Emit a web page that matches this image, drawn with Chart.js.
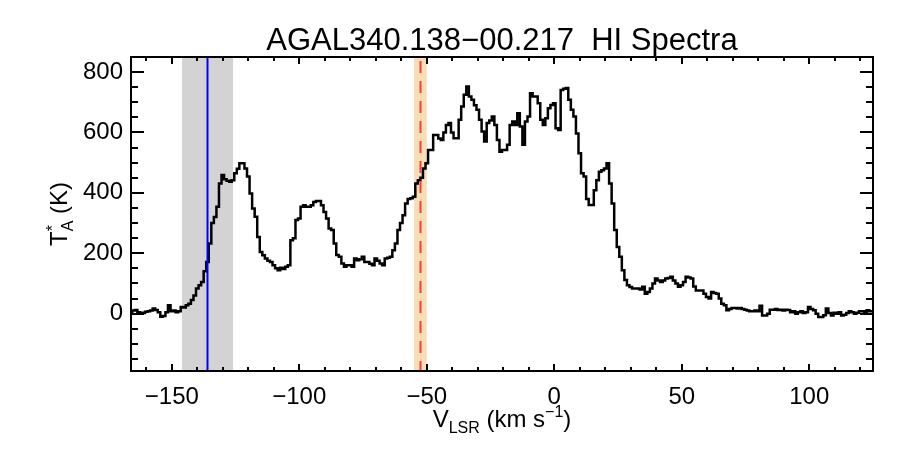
<!DOCTYPE html>
<html>
<head>
<meta charset="utf-8">
<script src="https://cdn.jsdelivr.net/npm/chart.js@4.4.1/dist/chart.umd.min.js"></script>
<style>
  html, body { margin: 0; padding: 0; background: #fff; }
</style>
</head>
<body>
<canvas id="spec" width="900" height="450"></canvas>
<script>
// HI spectrum, one channel per km/s starting at velStart
const velStart = -166;
const velStep = 1;
const tempK = [
    5, 10, 12, 5, 3, 2, 6, 8, 10, 17,
    12, 5, -10, -8, 5, 28, 8, 10, 5, 8,
    22, 20, 28, 33, 45, 60, 83, 94, 105, 140,
    171, 232, 300, 320, 354, 431, 459, 445, 440, 437,
    442, 465, 480, 498, 498, 481, 454, 398, 348, 321,
    254, 204, 193, 183, 175, 171, 160, 150, 144, 152,
    148, 155, 160, 243, 250, 310, 315, 354, 359, 354,
    354, 359, 370, 373, 373, 359, 337, 315, 282, 277,
    232, 194, 188, 166, 155, 160, 160, 155, 183, 177,
    180, 188, 171, 171, 165, 160, 183, 175, 166, 160,
    183, 185, 188, 210, 232, 277, 300, 326, 365, 380,
    382, 387, 431, 442, 450, 481, 498, 542, 542, 592,
    592, 580, 575, 600, 625, 631, 600, 581, 581, 642,
    686, 725, 752, 719, 708, 690, 675, 642, 603, 570,
    631, 640, 653, 625, 575, 536, 542, 542, 559, 625,
    636, 625, 664, 620, 559, 636, 653, 730, 719, 719,
    697, 642, 625, 647, 680, 691, 697, 614, 608, 741,
    745, 747, 708, 675, 653, 597, 531, 465, 454, 380,
    360, 360, 409, 442, 470, 475, 481, 498, 431, 365,
    277, 221, 188, 144, 111, 94, 88, 83, 83, 83,
    80, 89, 66, 72, 83, 100, 116, 110, 105, 110,
    116, 118, 122, 110, 100, 89, 94, 105, 122, 120,
    116, 90, 77, 77, 77, 66, 55, 50, 72, 68,
    66, 50, 33, 28, 11, 15, 19, 19, 17, 19,
    15, 13, 10, 8, 8, 10, 8, 26, -6, -6,
    0, 13, 13, 15, 12, 13, 10, 13, 12, 5,
    8, 0, 5, 8, 2, 5, 22, 15, 11, 0,
    -11, -11, -5, 17, 2, -6, 3, 0, 5, -6,
    -4, 2, 8, 5, 0, 3, 8, 8, 5, 11,
    8, 8
];
const velocities = tempK.map((t, i) => velStart + i * velStep);

const xRange = [-166, 125];
const yRange = [-190, 850];
const xTickVals = [-150, -100, -50, 0, 50, 100];
const yTickVals = [0, 200, 400, 600, 800];
const xMinor = 10;
const yMinor = 50;

// marked velocity ranges
const grayBand = [-146, -126];
const blueLineVel = -136;
const orangeBand = [-55, -50];
const redLineVel = -52.5;

const titleText = 'AGAL340.138\u221200.217  HI Spectra';
const FONT = '"Liberation Sans", Arial, Helvetica, sans-serif';

function setFont(ctx, size) {
    ctx.font = size + 'px ' + FONT;
}

// draw pieces [text, size, dy] one after another, centred on cx
function drawPieces(ctx, pieces, cx, baseY) {
    let total = 0;
    pieces.forEach(p => { setFont(ctx, p[1]); total += ctx.measureText(p[0]).width; });
    let xx = cx - total / 2;
    pieces.forEach(p => {
        setFont(ctx, p[1]);
        ctx.fillText(p[0], xx, baseY + p[2]);
        xx += ctx.measureText(p[0]).width;
    });
}

const idlFrame = {
    id: 'idlFrame',
    beforeDatasetsDraw(chart) {
        const { ctx, chartArea: a, scales: { x } } = chart;
        ctx.save();
        ctx.fillStyle = 'rgb(211,211,211)';
        let x0 = x.getPixelForValue(grayBand[0]), x1 = x.getPixelForValue(grayBand[1]);
        ctx.fillRect(x0, a.top, x1 - x0, a.bottom - a.top);
        ctx.fillStyle = 'rgb(248,222,180)';
        x0 = x.getPixelForValue(orangeBand[0]); x1 = x.getPixelForValue(orangeBand[1]);
        ctx.fillRect(x0, a.top, x1 - x0, a.bottom - a.top);
        ctx.restore();
    },
    afterDatasetsDraw(chart) {
        const { ctx, chartArea: a, scales: { x, y } } = chart;
        ctx.save();

        // vertical markers
        ctx.lineWidth = 2;
        ctx.strokeStyle = 'rgb(0,0,255)';
        let px = Math.round(x.getPixelForValue(blueLineVel)) + 0.5;
        ctx.beginPath(); ctx.moveTo(px, a.top); ctx.lineTo(px, a.bottom); ctx.stroke();
        ctx.strokeStyle = 'rgb(255,60,60)';
        ctx.setLineDash([12, 8]);
        px = Math.round(x.getPixelForValue(redLineVel)) + 0.5;
        ctx.beginPath(); ctx.moveTo(px, a.top + 4); ctx.lineTo(px, a.bottom); ctx.stroke();
        ctx.setLineDash([]);

        // box
        ctx.strokeStyle = '#000';
        ctx.lineWidth = 2;
        ctx.strokeRect(a.left, a.top, a.right - a.left, a.bottom - a.top);

        // inward ticks, major ones longer
        ctx.beginPath();
        for (let v = Math.ceil(xRange[0] / xMinor) * xMinor; v <= xRange[1]; v += xMinor) {
            const len = xTickVals.includes(v) ? 7 : 4;
            const p = Math.round(x.getPixelForValue(v));
            ctx.moveTo(p, a.bottom); ctx.lineTo(p, a.bottom - len);
            ctx.moveTo(p, a.top); ctx.lineTo(p, a.top + len);
        }
        for (let v = Math.ceil(yRange[0] / yMinor) * yMinor; v <= yRange[1]; v += yMinor) {
            const len = yTickVals.includes(v) ? 13 : 7;
            const p = Math.round(y.getPixelForValue(v));
            ctx.moveTo(a.left, p); ctx.lineTo(a.left + len, p);
            ctx.moveTo(a.right, p); ctx.lineTo(a.right - len, p);
        }
        ctx.stroke();

        ctx.fillStyle = '#000';
        ctx.textAlign = 'left';
        ctx.textBaseline = 'alphabetic';

        // title
        const cx = (a.left + a.right) / 2;
        drawPieces(ctx, [[titleText, 31, 0]], cx, 50);

        // x axis title: V_LSR (km s^-1)
        drawPieces(ctx, [['V', 24, 0], ['LSR', 16, 6], [' (km s', 24, 0], ['\u22121', 16, -10], [')', 24, 0]], cx, 427);

        // y axis title: T*_A (K), rotated
        ctx.translate(67, (a.top + a.bottom) / 2);
        ctx.rotate(-Math.PI / 2);
        setFont(ctx, 24);
        const wT = ctx.measureText('T').width;
        const wK = ctx.measureText(' (K)').width;
        setFont(ctx, 16);
        const wA = ctx.measureText('A').width;
        let xx = -(wT + wA + wK) / 2;
        setFont(ctx, 24);
        ctx.fillText('T', xx, 0);
        xx += wT;
        setFont(ctx, 16);
        ctx.fillText('*', xx, -9);
        ctx.fillText('A', xx, 6);
        xx += wA;
        setFont(ctx, 24);
        ctx.fillText(' (K)', xx, 0);

        ctx.restore();
    }
};

new Chart(document.getElementById('spec'), {
    type: 'line',
    data: {
        datasets: [{
            data: velocities.map((v, i) => ({ x: v, y: tempK[i] })),
            stepped: 'middle',
            borderColor: '#000',
            borderWidth: 2.5,
            pointRadius: 0,
            fill: false
        }]
    },
    options: {
        responsive: false,
        animation: false,
        devicePixelRatio: 1,
        layout: { padding: { top: 57, right: 27, left: 0, bottom: 0 } },
        plugins: { legend: { display: false }, tooltip: { enabled: false }, title: { display: false } },
        scales: {
            x: {
                type: 'linear',
                min: xRange[0],
                max: xRange[1],
                grid: { display: false, drawTicks: false },
                border: { display: false },
                afterBuildTicks: s => { s.ticks = xTickVals.map(v => ({ value: v })); },
                ticks: {
                    maxRotation: 0,
                    autoSkip: false,
                    padding: 12,
                    color: '#000',
                    font: { size: 24, family: FONT },
                    callback: v => String(v).replace('-', '\u2212')
                },
                afterFit: s => { s.height = 79; }
            },
            y: {
                min: yRange[0],
                max: yRange[1],
                grid: { display: false, drawTicks: false },
                border: { display: false },
                afterBuildTicks: s => { s.ticks = yTickVals.map(v => ({ value: v })); },
                ticks: {
                    autoSkip: false,
                    padding: 8,
                    color: '#000',
                    font: { size: 24, family: FONT },
                    callback: v => String(v).replace('-', '\u2212')
                },
                afterFit: s => { s.width = 131; }
            }
        }
    },
    plugins: [idlFrame]
});
</script>
</body>
</html>
